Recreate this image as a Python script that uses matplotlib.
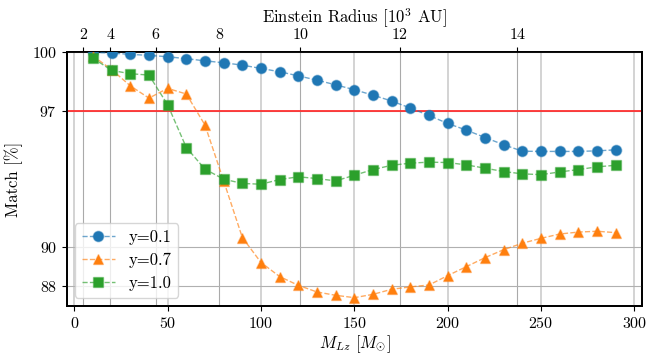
import numpy as np
import matplotlib
matplotlib.use("Agg")
import matplotlib.pyplot as plt
from matplotlib.colors import to_rgb

plt.rcParams['font.family'] = ['cmr10', 'DejaVu Serif']
plt.rcParams['mathtext.fontset'] = 'cm'
plt.rcParams['axes.formatter.use_mathtext'] = True

mass = [10, 20, 30, 40, 50, 60, 70, 80, 90, 100, 110, 120, 130, 140, 150,
        160, 170, 180, 190, 200, 210, 220, 230, 240, 250, 260, 270, 280, 290]

match_y01 = [99.98, 99.95, 99.88, 99.83, 99.76, 99.66, 99.55, 99.45, 99.33, 99.16,
             98.99, 98.78, 98.56, 98.32, 98.07, 97.79, 97.49, 97.13, 96.75, 96.34,
             96.00, 95.62, 95.25, 94.92, 94.91, 94.91, 94.91, 94.94, 94.99]
match_y07 = [99.80, 99.10, 98.27, 97.64, 98.14, 97.85, 96.26, 93.40, 90.50, 89.22,
             88.50, 88.05, 87.71, 87.54, 87.42, 87.59, 87.85, 87.97, 88.07, 88.55,
             89.01, 89.47, 89.88, 90.21, 90.46, 90.68, 90.78, 90.82, 90.75]
match_y10 = [99.69, 99.06, 98.89, 98.82, 97.30, 95.11, 94.00, 93.49, 93.27, 93.23,
             93.47, 93.61, 93.52, 93.40, 93.69, 93.98, 94.20, 94.31, 94.36, 94.34,
             94.22, 94.05, 93.88, 93.76, 93.72, 93.86, 93.98, 94.12, 94.20]

series_labels = ['y=0.1', 'y=0.7', 'y=1.0']
series_colors = ['#1f77b4', '#ff7f0e', '#2ca02c']
series_markers = ['o', '^', 's']

y_ticks = [88, 90, 97, 100]
x_ticks = [0, 50, 100, 150, 200, 250, 300]
radius_ticks = [2, 4, 6, 8, 10, 12, 14]
radius_to_mass = 1.21  # M = 1.21 * R^2

fig = plt.figure(figsize=(6.68, 3.54), dpi=100)
ax = fig.add_axes([0.100, 0.136, 0.861, 0.717])

for vals, lab, col, mk in zip([match_y01, match_y07, match_y10], series_labels,
                              series_colors, series_markers):
    rgb = to_rgb(col)
    ax.plot(mass, vals, linestyle='--', linewidth=1.0, color=rgb + (0.65,),
            marker=mk, markersize=7.5, markerfacecolor=rgb,
            markeredgecolor=rgb + (0.4,), markeredgewidth=1.0, label=lab, zorder=3)

ax.axhline(97, color='#ff3030', linewidth=1.3, zorder=2)

ax.set_xlim(-4, 304)
ax.set_ylim(87, 100)
ax.set_yticks(y_ticks)
ax.set_xticks(x_ticks)
ax.tick_params(labelsize=11.5, direction='out', length=3.5)
ax.xaxis.grid(True, color='#b0b0b0', alpha=0.6, linewidth=1.3)
ax.yaxis.grid(True, color='#b0b0b0', linewidth=0.8)
ax.set_axisbelow(True)
for s in ax.spines.values():
    s.set_linewidth(1.3)

ax.set_xlabel(r'$M_{Lz}$ [$M_{\odot}$]', fontsize=12, labelpad=2)
ax.set_ylabel('Match [%]', fontsize=12, labelpad=6)

ax2 = ax.twiny()
ax2.set_xlim(ax.get_xlim())
ax2.set_xticks([radius_to_mass * r ** 2 for r in radius_ticks])
ax2.set_xticklabels([str(r) for r in radius_ticks])
ax2.tick_params(labelsize=11.5, direction='out', length=3.5)
ax2.xaxis.grid(True, color='#aaaaaa', linewidth=0.8)
ax2.set_axisbelow(True)
ax2.set_xlabel(r'Einstein Radius [$10^3$ AU]', fontsize=12)
for s in ax2.spines.values():
    s.set_linewidth(1.3)
ax.set_zorder(ax2.get_zorder() + 1)
ax.patch.set_visible(False)

ax.legend(loc='lower left', fontsize=12, framealpha=0.8, labelspacing=0.45)

fig.savefig('out.png', dpi=100)
